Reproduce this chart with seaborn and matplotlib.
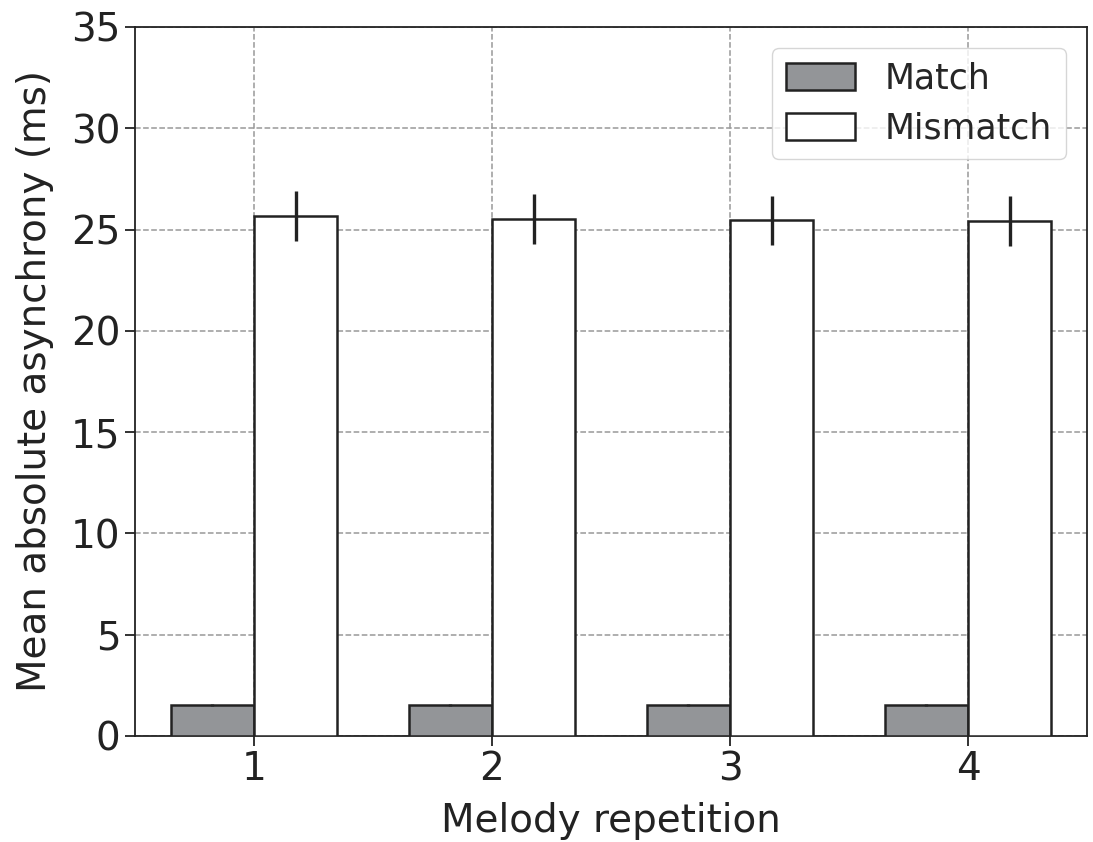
import numpy as np
import pandas as pd
import matplotlib
matplotlib.use("Agg")
import matplotlib.pyplot as plt
import seaborn as sns

# data
repetitions = ["1", "2", "3", "4"]
conditions = ["Match", "Mismatch"]
match_mean = [1.53, 1.53, 1.53, 1.53]
match_err = [0.05, 0.05, 0.05, 0.05]
mismatch_mean = [25.67, 25.52, 25.45, 25.42]
mismatch_err = [1.25, 1.22, 1.22, 1.22]

df = pd.DataFrame({
    "rep": repetitions * 2,
    "cond": ["Match"] * 4 + ["Mismatch"] * 4,
    "val": match_mean + mismatch_mean,
    "err": match_err + mismatch_err,
})

sns.set_style("ticks")
plt.rcParams["font.family"] = ["DejaVu Sans"]

fig = plt.figure(figsize=(10.93, 8.42), dpi=100)
ax = fig.add_axes([0.1235, 0.126, 0.871, 0.842])

sns.barplot(data=df, x="rep", y="val", hue="cond", hue_order=conditions,
            palette={"Match": "#939598", "Mismatch": "white"},
            errorbar=None, width=0.7, edgecolor="#222222", linewidth=1.8,
            saturation=1, ax=ax, zorder=3)

# error bars at bar centres
for cont, cond in zip(ax.containers, conditions):
    sub = df[df["cond"] == cond]
    xs = [p.get_x() + p.get_width() / 2 for p in cont.patches]
    ax.errorbar(xs, sub["val"], yerr=sub["err"], fmt="none",
                ecolor="#222222", elinewidth=2.4, capsize=0, zorder=4)

ax.set_ylim(0, 35)
ax.set_xlim(-0.5, 3.5)
ax.set_yticks(range(0, 36, 5))
ax.grid(True, linestyle="--", color="#999999", linewidth=1.1, zorder=0)
ax.set_axisbelow(True)
for s in ax.spines.values():
    s.set_visible(True)
    s.set_color("#222222")
    s.set_linewidth(1.3)
ax.tick_params(labelsize=28, length=7, width=1.3, color="#222222", labelcolor="#222222")
ax.set_xlabel("Melody repetition", fontsize=28, color="#222222", labelpad=10)
ax.set_ylabel("Mean absolute asynchrony (ms)", fontsize=28, color="#222222", labelpad=12)

leg = ax.legend(title=None, fontsize=25, loc="upper right", frameon=True,
                fancybox=True, handlelength=2.0, handleheight=0.8,
                borderpad=0.4, labelspacing=0.45, handletextpad=0.85,
                borderaxespad=0.6)
leg.get_frame().set_edgecolor("#cccccc")

fig.savefig("out.png", dpi=100)
